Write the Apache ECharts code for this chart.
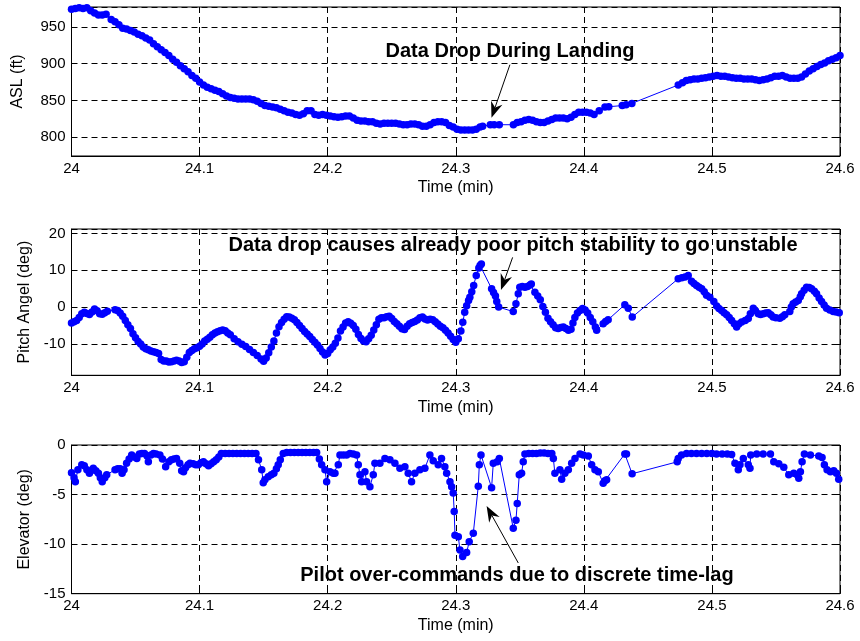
<!DOCTYPE html>
<html>
<head>
<meta charset="utf-8">
<script src="https://cdn.jsdelivr.net/npm/echarts@6/dist/echarts.min.js"></script>
<style>
  html, body { margin: 0; padding: 0; background: #ffffff; }
  #chart { width: 860px; height: 641px; }
</style>
</head>
<body>
<div id="chart"></div>
<script>
// ---- Altitude above sea level (ft) vs time (min) ----
const aslTime = [24.000,24.003,24.006,24.009,24.012,24.015,24.018,24.021,24.024,24.027,24.031,24.034,24.037,24.040,24.043,24.046,24.049,24.052,24.055,24.058,24.061,24.064,24.067,24.070,24.073,24.076,24.079,24.082,24.085,24.088,24.091,24.094,24.097,24.100,24.103,24.106,24.109,24.112,24.115,24.118,24.121,24.124,24.127,24.130,24.133,24.136,24.139,24.142,24.145,24.148,24.151,24.154,24.157,24.160,24.163,24.166,24.169,24.172,24.175,24.178,24.181,24.184,24.187,24.190,24.193,24.196,24.199,24.202,24.205,24.208,24.211,24.214,24.217,24.220,24.223,24.226,24.229,24.232,24.235,24.238,24.241,24.244,24.247,24.250,24.253,24.256,24.259,24.262,24.265,24.268,24.271,24.274,24.277,24.280,24.283,24.286,24.289,24.292,24.295,24.298,24.301,24.304,24.307,24.310,24.313,24.316,24.319,24.321,24.327,24.330,24.334,24.345,24.348,24.351,24.354,24.357,24.360,24.363,24.366,24.369,24.372,24.375,24.378,24.381,24.384,24.387,24.390,24.393,24.396,24.399,24.402,24.405,24.408,24.412,24.4165,24.4195,24.430,24.433,24.4375,24.4737,24.477,24.480,24.483,24.486,24.489,24.492,24.495,24.498,24.501,24.504,24.507,24.510,24.513,24.516,24.519,24.522,24.525,24.528,24.531,24.534,24.537,24.540,24.543,24.546,24.549,24.552,24.555,24.558,24.561,24.564,24.567,24.570,24.573,24.576,24.579,24.582,24.585,24.588,24.591,24.594,24.597,24.600];
const aslFt = [974,975,976,975,976,972,969,966,966,967,960,957,953,948,947,945,943,940,938,935,932,927,923,919,915,911,906,902,897,893,889,884,880,875,871,868,866,864,862,859,856,854,853,852,852,852,852,851,849,846,843,842,841,840,838,836,834,833,831,830,832,836,836,831,830,831,830,829,828,827,828,829,829,826,823,822,822,821,821,819,818,819,819,819,819,818,817,817,818,818,817,815,815,817,820,821,821,820,816,814,811,810,810,810,810,811,814,815,817,817,817,817,820,821,823,824,823,821,820,820,822,824,826,826,826,825,827,831,834,834,834,833,831,836,841,841.5,843,844,846,871,874,877,878,879,879,880,881,882,883,884,883,883,882,881,880,880,879,879,879,878,877,878,879,881,883,883,884,882,880,880,880,882,886,890,893,896,899,901,904,906,908,911];

// ---- Pitch angle (deg) vs time (min) ----
const pitchTime = [24.000,24.002,24.004,24.006,24.008,24.010,24.012,24.014,24.016,24.018,24.020,24.022,24.024,24.026,24.028,24.034,24.036,24.038,24.040,24.042,24.044,24.046,24.048,24.050,24.052,24.054,24.056,24.058,24.060,24.062,24.064,24.066,24.068,24.070,24.072,24.074,24.076,24.078,24.080,24.082,24.084,24.086,24.088,24.090,24.092,24.094,24.096,24.098,24.100,24.102,24.104,24.106,24.108,24.110,24.112,24.114,24.116,24.118,24.120,24.122,24.124,24.127,24.130,24.133,24.136,24.139,24.142,24.145,24.148,24.150,24.152,24.154,24.156,24.158,24.160,24.162,24.164,24.166,24.168,24.170,24.172,24.174,24.176,24.178,24.180,24.182,24.184,24.186,24.188,24.190,24.192,24.194,24.196,24.198,24.200,24.202,24.204,24.206,24.208,24.210,24.212,24.214,24.216,24.218,24.220,24.222,24.224,24.226,24.228,24.230,24.232,24.234,24.236,24.238,24.240,24.242,24.244,24.246,24.248,24.250,24.252,24.254,24.256,24.258,24.260,24.262,24.264,24.266,24.268,24.270,24.272,24.274,24.276,24.278,24.280,24.282,24.284,24.286,24.288,24.290,24.292,24.294,24.296,24.298,24.300,24.302,24.304,24.3055,24.307,24.3085,24.310,24.311,24.3125,24.314,24.316,24.318,24.319,24.320,24.328,24.3295,24.331,24.332,24.3335,24.3449,24.347,24.3488,24.350,24.352,24.354,24.356,24.358,24.359,24.3618,24.364,24.366,24.368,24.370,24.372,24.374,24.376,24.378,24.380,24.382,24.384,24.386,24.388,24.390,24.3915,24.393,24.395,24.397,24.399,24.401,24.403,24.405,24.407,24.409,24.410,24.4151,24.417,24.419,24.432,24.4347,24.4378,24.4737,24.4765,24.479,24.4815,24.4841,24.486,24.488,24.490,24.492,24.494,24.4958,24.4984,24.5015,24.5037,24.5055,24.5076,24.5095,24.5115,24.5135,24.5154,24.5175,24.5193,24.521,24.5232,24.526,24.5284,24.530,24.5323,24.534,24.5362,24.538,24.5401,24.542,24.544,24.546,24.5478,24.550,24.553,24.555,24.5569,24.5608,24.562,24.5634,24.5654,24.5674,24.569,24.570,24.572,24.5739,24.576,24.5778,24.580,24.5817,24.5837,24.5856,24.5876,24.5895,24.592,24.5947,24.597,24.5994];
const pitchDeg = [-4.3,-4.0,-3.6,-2.8,-1.8,-1.4,-1.7,-2.0,-1.3,-0.5,-1.0,-1.8,-1.9,-1.5,-1.1,-0.7,-0.9,-1.6,-2.5,-3.6,-4.8,-5.8,-7.2,-8.3,-9.3,-10.0,-10.8,-11.3,-11.6,-11.9,-12.1,-12.3,-12.6,-14.2,-14.6,-14.6,-14.9,-14.8,-14.6,-14.4,-14.6,-15.0,-14.8,-13.6,-12.3,-11.8,-11.3,-11.0,-10.6,-10.0,-9.2,-8.7,-8.2,-7.5,-7.0,-6.7,-6.4,-6.2,-6.4,-7.0,-7.5,-8.6,-9.4,-10.1,-10.7,-11.5,-12.3,-13.1,-14.1,-14.7,-13.8,-12.4,-10.8,-9.2,-7.0,-5.3,-4.2,-3.3,-2.6,-2.7,-3.0,-3.4,-4.2,-5.0,-5.8,-6.6,-7.3,-8.0,-8.8,-9.5,-10.3,-11.2,-12.2,-13.0,-12.6,-11.6,-10.8,-9.8,-8.4,-6.5,-5.4,-4.3,-4.0,-4.4,-5.0,-6.0,-7.4,-8.5,-9.2,-9.4,-8.6,-7.6,-6.2,-4.8,-3.3,-2.9,-2.9,-2.6,-2.5,-3.1,-3.9,-4.5,-5.2,-5.9,-6.1,-5.2,-4.5,-4.2,-3.9,-3.5,-2.9,-2.7,-3.2,-3.5,-3.3,-3.4,-4.0,-4.6,-5.2,-5.6,-6.3,-7.0,-7.9,-8.8,-9.5,-8.6,-6.5,-4.1,-1.4,0.4,1.8,2.7,4.2,5.9,8.6,10.6,11.3,11.7,5.0,4.0,3.0,1.5,0.0,-1.2,0.9,3.6,5.4,5.6,5.4,5.6,6.0,6.3,4.05,3.0,2.0,0.2,-1.4,-3.0,-4.0,-4.8,-5.6,-5.8,-5.5,-5.4,-5.8,-6.3,-6.0,-4.3,-2.8,-1.6,-0.9,-0.4,-0.8,-1.6,-2.8,-4.0,-5.4,-6.3,-4.5,-3.9,-3.4,0.65,-0.3,-2.7,7.7,8.0,8.2,8.6,7.0,6.4,5.9,5.4,5.0,4.2,3.2,2.7,1.5,0.3,-0.4,-0.9,-1.5,-2.05,-2.8,-3.6,-4.5,-5.4,-4.6,-4.05,-3.6,-3.1,-1.8,-0.3,-1.0,-1.8,-2.0,-1.8,-1.6,-1.5,-2.1,-2.7,-2.9,-3.0,-2.6,-2.05,-1.2,0.0,0.9,1.4,1.8,2.8,3.6,4.6,5.4,5.3,5.0,4.3,3.6,2.5,1.5,0.6,-0.3,-0.8,-1.2,-1.3,-1.5];

// ---- Elevator deflection (deg) vs time (min) ----
const elevTime = [24.000,24.002,24.003,24.005,24.008,24.010,24.012,24.014,24.017,24.019,24.021,24.0225,24.024,24.026,24.0275,24.034,24.036,24.038,24.0395,24.041,24.043,24.045,24.047,24.049,24.051,24.053,24.055,24.057,24.059,24.060,24.062,24.064,24.066,24.069,24.071,24.0735,24.076,24.078,24.080,24.082,24.0845,24.086,24.0875,24.089,24.091,24.0925,24.095,24.097,24.099,24.101,24.103,24.105,24.107,24.109,24.111,24.113,24.115,24.117,24.120,24.123,24.126,24.129,24.132,24.135,24.138,24.141,24.144,24.146,24.1485,24.1497,24.151,24.1536,24.156,24.158,24.160,24.1614,24.163,24.1653,24.168,24.171,24.174,24.177,24.180,24.183,24.186,24.189,24.1914,24.1935,24.1953,24.1979,24.1992,24.2018,24.2044,24.2057,24.2083,24.2096,24.2122,24.2148,24.2174,24.2200,24.2226,24.2239,24.2252,24.2265,24.2291,24.2304,24.2330,24.2356,24.2369,24.2408,24.2447,24.2486,24.2525,24.2564,24.2603,24.2629,24.2655,24.2681,24.2720,24.2759,24.2798,24.2824,24.2863,24.2889,24.2915,24.2929,24.2955,24.2968,24.2980,24.2988,24.2994,24.3020,24.3033,24.3054,24.3085,24.3105,24.3137,24.3176,24.3184,24.3197,24.3280,24.3293,24.3324,24.3340,24.3449,24.3470,24.3480,24.3496,24.3514,24.3527,24.3540,24.3570,24.3600,24.3630,24.3660,24.3690,24.3720,24.3750,24.3762,24.3774,24.3813,24.3827,24.3852,24.3879,24.3905,24.3931,24.3970,24.3996,24.4035,24.4061,24.4087,24.4113,24.4151,24.4165,24.4178,24.4320,24.4333,24.4377,24.4729,24.4737,24.4763,24.4802,24.4840,24.4880,24.4920,24.4960,24.5000,24.5036,24.5080,24.5120,24.5154,24.5180,24.5206,24.5219,24.5245,24.5284,24.5297,24.5303,24.5350,24.5400,24.5457,24.5483,24.5522,24.5561,24.5600,24.5639,24.5665,24.5678,24.5691,24.5704,24.5722,24.5769,24.5834,24.5860,24.5878,24.5899,24.5925,24.5951,24.5972,24.5990];
const elevDeg = [-2.8,-3.3,-3.7,-2.5,-2.0,-2.1,-2.5,-2.85,-2.35,-2.6,-2.85,-3.3,-3.7,-3.3,-3.0,-2.5,-2.4,-2.4,-2.85,-2.5,-1.85,-1.4,-1.0,-1.2,-1.35,-0.9,-0.85,-0.85,-1.1,-1.7,-1.0,-0.85,-0.9,-1.0,-1.4,-2.2,-1.7,-1.5,-1.4,-1.35,-1.85,-2.6,-2.7,-2.3,-2.0,-1.85,-1.9,-2.0,-2.0,-1.8,-1.7,-1.9,-2.1,-1.9,-1.7,-1.5,-1.2,-0.85,-0.85,-0.85,-0.85,-0.85,-0.85,-0.85,-0.85,-0.85,-0.85,-1.5,-2.5,-3.8,-3.5,-3.2,-3.0,-2.85,-2.4,-2.0,-1.5,-0.85,-0.75,-0.75,-0.75,-0.75,-0.75,-0.75,-0.75,-0.75,-0.75,-1.4,-2.0,-2.5,-3.7,-2.7,-2.85,-2.85,-2.0,-1.0,-1.0,-1.0,-0.85,-0.9,-1.0,-2.0,-3.0,-3.7,-2.7,-3.7,-4.2,-3.0,-1.85,-1.85,-1.35,-1.5,-1.85,-2.35,-2.2,-2.85,-3.7,-2.85,-2.5,-2.35,-1.0,-1.6,-2.0,-1.35,-2.2,-2.85,-3.7,-4.2,-4.85,-6.7,-9.1,-9.25,-10.6,-11.25,-10.85,-9.75,-8.9,-4.15,-2.0,-1.0,-4.3,-1.85,-1.7,-1.35,-8.4,-7.6,-5.9,-3.0,-2.85,-1.7,-0.9,-0.85,-0.85,-0.85,-0.8,-0.8,-0.85,-0.85,-1.35,-2.85,-2.5,-3.45,-2.85,-2.5,-1.85,-1.35,-0.9,-1.0,-1.1,-2.0,-2.5,-2.7,-3.85,-3.6,-3.5,-0.9,-0.9,-2.9,-1.7,-1.35,-1.0,-0.85,-0.85,-0.85,-0.85,-0.85,-0.85,-0.9,-0.9,-0.9,-0.95,-1.85,-2.5,-2.0,-1.35,-2.0,-2.35,-1.0,-0.9,-0.9,-0.9,-1.7,-1.9,-2.25,-3.0,-2.85,-3.0,-3.35,-2.7,-1.7,-0.9,-1.0,-1.1,-1.25,-2.0,-2.5,-2.7,-2.6,-2.85,-3.45];

// ---- Axis settings ----
const timeTicks = [24, 24.6, 0.1];              // min, max, step
const yLimits = [[774.5, 977, 50], [-18.5, 21.2, 10], [-15, 0, 5]];
const yTitles = ['ASL (ft)', 'Pitch Angel (deg)', 'Elevator (deg)'];
const xTitle = 'Time (min)';

// ---- Callout notes: text anchor, arrow tail and arrow tip (data coordinates) ----
const noteText = [
  'Data Drop During Landing',
  'Data drop causes already poor pitch stability to go unstable',
  'Pilot over-commands due to discrete time-lag'
];
const noteAt = [[24.3423, 916.3], [24.3447, 16.7], [24.3478, -13.2]];
const arrowFrom = [[24.3423, 898.6], [24.3444, 13.5], [24.3488, -11.9]];
const arrowTo = [[24.3279, 826.4], [24.3353, 4.65], [24.3241, -6.15]];

const FONT = '"Liberation Sans", Arial, Helvetica, sans-serif';
const BLUE = '#0000ff';
const panels = [[aslTime, aslFt], [pitchTime, pitchDeg], [elevTime, elevDeg]];
const gridBoxes = [
  { top: 7, height: 149 },
  { top: 229, height: 146.3 },
  { top: 445, height: 148.7 }
];
const yNameGaps = [46, 38, 38];

const chart = echarts.init(document.getElementById('chart'), null, { renderer: 'canvas' });

const onStep = (v, step) => Math.abs(v / step - Math.round(v / step)) < 1e-6;

const grid = gridBoxes.map(b => ({
  left: 71.5, right: 20, top: b.top, height: b.height,
  show: true, borderColor: '#000', borderWidth: 1, backgroundColor: '#fff'
}));

const tickStyle = { show: true, inside: true, length: 5, lineStyle: { color: '#000', width: 1 } };
const dashed = { show: true, lineStyle: { color: '#000', width: 1, type: [6, 4] } };

const xAxis = [];
const yAxis = [];
for (let i = 0; i < 3; i++) {
  xAxis.push({
    type: 'value', gridIndex: i, position: 'bottom',
    min: timeTicks[0], max: timeTicks[1], interval: timeTicks[2],
    axisLine: { show: true, onZero: false, lineStyle: { color: '#000', width: 1 } },
    axisTick: tickStyle,
    axisLabel: {
      color: '#000', fontSize: 15, fontFamily: FONT, margin: 5,
      formatter: v => String(+v.toFixed(1))
    },
    splitLine: dashed,
    name: xTitle, nameLocation: 'middle', nameGap: 24,
    nameTextStyle: { color: '#000', fontSize: 16, fontFamily: FONT }
  });
  const [lo, hi, step] = yLimits[i];
  const yLeft = {
    type: 'value', gridIndex: i, position: 'left', min: lo, max: hi,
    axisLine: { show: true, onZero: false, lineStyle: { color: '#000', width: 1 } },
    axisTick: tickStyle,
    axisLabel: {
      color: '#000', fontSize: 15, fontFamily: FONT, margin: 6,
      formatter: v => (onStep(v, step) ? String(Math.round(v)) : '')
    },
    splitLine: dashed,
    name: yTitles[i], nameLocation: 'middle', nameGap: yNameGaps[i],
    nameTextStyle: { color: '#000', fontSize: 16, fontFamily: FONT }
  };
  if (onStep(lo, step)) { yLeft.interval = step; } else { yLeft.splitNumber = 4; }
  yAxis.push(yLeft);
}
// mirrored tick marks along the top and right edges of every panel
for (let i = 0; i < 3; i++) {
  xAxis.push({
    type: 'value', gridIndex: i, position: 'top',
    min: timeTicks[0], max: timeTicks[1], interval: timeTicks[2],
    axisLine: { show: false, onZero: false },
    axisTick: tickStyle,
    axisLabel: { show: false }, splitLine: { show: false }
  });
  const [lo, hi, step] = yLimits[i];
  const yRight = {
    type: 'value', gridIndex: i, position: 'right', min: lo, max: hi,
    axisLine: { show: false, onZero: false },
    axisTick: tickStyle,
    axisLabel: { show: false }, splitLine: { show: false }
  };
  if (onStep(lo, step)) { yRight.interval = step; } else { yRight.splitNumber = 4; }
  yAxis.push(yRight);
}

const series = panels.map(([t, v], i) => ({
  type: 'line', xAxisIndex: i, yAxisIndex: i,
  data: t.map((x, k) => [x, v[k]]),
  symbol: 'circle', symbolSize: 7.5, showSymbol: true,
  itemStyle: { color: BLUE, borderWidth: 0 },
  lineStyle: { color: BLUE, width: 1 },
  clip: false, animation: false, silent: true, z: 3
}));

chart.setOption({
  animation: false,
  backgroundColor: '#ffffff',
  grid, xAxis, yAxis, series
});

// callout texts and arrows, placed through the panels' own coordinate systems
function arrowHead(tip, tail, len, half, notch) {
  const dx = tip[0] - tail[0], dy = tip[1] - tail[1];
  const d = Math.hypot(dx, dy) || 1;
  const ux = dx / d, uy = dy / d;
  const nx = -uy, ny = ux;
  const bx = tip[0] - ux * len, by = tip[1] - uy * len;
  return [
    [tip[0], tip[1]],
    [bx + nx * half, by + ny * half],
    [tip[0] - ux * notch, tip[1] - uy * notch],
    [bx - nx * half, by - ny * half]
  ];
}

const graphic = [];
for (let i = 0; i < 3; i++) {
  const p = chart.convertToPixel({ seriesIndex: i }, noteAt[i]);
  const a = chart.convertToPixel({ seriesIndex: i }, arrowFrom[i]);
  const b = chart.convertToPixel({ seriesIndex: i }, arrowTo[i]);
  graphic.push({
    type: 'text', x: p[0], y: p[1], z: 10,
    style: {
      text: noteText[i], fill: '#000',
      font: 'bold 20px ' + FONT,
      align: 'center', verticalAlign: 'middle',
      textAlign: 'center', textVerticalAlign: 'middle'
    }
  });
  const head = arrowHead(b, a, 16, 6, 11);
  graphic.push({
    type: 'line', z: 10,
    shape: { x1: a[0], y1: a[1], x2: head[2][0], y2: head[2][1] },
    style: { stroke: '#000', lineWidth: 1 }
  });
  graphic.push({
    type: 'polygon', z: 10,
    shape: { points: head },
    style: { fill: '#000' }
  });
}
chart.setOption({ graphic });
</script>
</body>
</html>
